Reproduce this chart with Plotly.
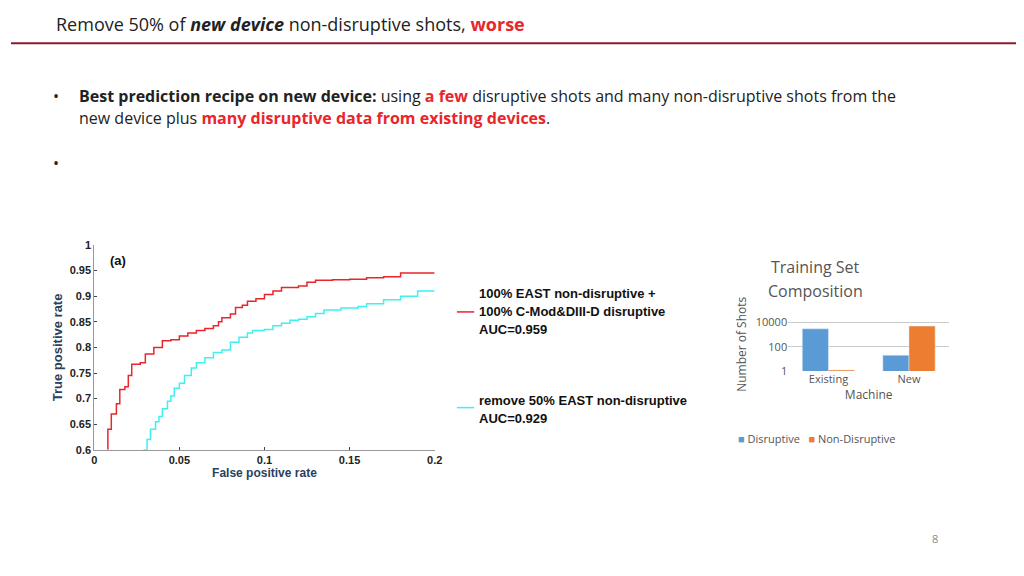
import plotly.graph_objects as go

# ROC curves
red_fpr = [0.008, 0.008, 0.010, 0.013, 0.015, 0.018, 0.020, 0.022, 0.027, 0.030, 0.035, 0.038, 0.040,
           0.045, 0.050, 0.055, 0.060, 0.065, 0.070, 0.073, 0.075, 0.080, 0.083, 0.087, 0.090, 0.095,
           0.100, 0.105, 0.110, 0.120, 0.125, 0.130, 0.140, 0.150, 0.160, 0.170, 0.180, 0.200]
red_tpr = [0.600, 0.640, 0.670, 0.690, 0.718, 0.723, 0.745, 0.767, 0.770, 0.787, 0.800, 0.800, 0.813,
           0.815, 0.822, 0.828, 0.833, 0.837, 0.842, 0.850, 0.858, 0.865, 0.878, 0.882, 0.890, 0.895,
           0.903, 0.910, 0.917, 0.920, 0.927, 0.931, 0.932, 0.933, 0.936, 0.938, 0.945, 0.945]
cyan_fpr = [0.029, 0.031, 0.033, 0.036, 0.038, 0.040, 0.043, 0.045, 0.047, 0.050, 0.053, 0.057, 0.060,
            0.065, 0.070, 0.075, 0.080, 0.085, 0.090, 0.093, 0.100, 0.105, 0.110, 0.115, 0.120, 0.125,
            0.130, 0.135, 0.145, 0.155, 0.160, 0.170, 0.180, 0.190, 0.200]
cyan_tpr = [0.600, 0.620, 0.640, 0.655, 0.665, 0.680, 0.695, 0.705, 0.720, 0.730, 0.745, 0.760, 0.770,
            0.780, 0.790, 0.795, 0.810, 0.820, 0.828, 0.833, 0.835, 0.842, 0.847, 0.853, 0.855, 0.860,
            0.866, 0.873, 0.877, 0.880, 0.885, 0.893, 0.900, 0.910, 0.910]

# training set composition (log scale)
machines = ['Existing', 'New']
disruptive = [3000, 20]
non_disruptive = [1.2, 5000]

# page renders offset by the body margin; nudge everything back
DX, DY = -9 / 1024, 12 / 576


def px(v):
    return v + DX


def py(v):
    return v + DY


fig = go.Figure()
fig.add_trace(go.Scatter(x=red_fpr, y=red_tpr, mode='lines', line=dict(color='#e8262b', width=1.5),
                         line_shape='hv', xaxis='x', yaxis='y'))
fig.add_trace(go.Scatter(x=cyan_fpr, y=cyan_tpr, mode='lines', line=dict(color='#3ff0f0', width=1.5),
                         line_shape='hv', xaxis='x', yaxis='y'))
fig.add_trace(go.Bar(x=machines, y=disruptive, marker_color='#5b9bd5', xaxis='x2', yaxis='y2'))
fig.add_trace(go.Bar(x=machines, y=non_disruptive, marker_color='#ed7d31', xaxis='x2', yaxis='y2'))

tickfont = dict(family='Arial Black, Arial', size=11, color='#222')
fig.update_layout(
    width=1024, height=576, margin=dict(l=0, r=0, t=0, b=0), showlegend=False,
    paper_bgcolor='white', plot_bgcolor='white', barmode='group', bargap=0.35,
    font=dict(family='Open Sans'),
    xaxis=dict(domain=[px(0.091), px(0.427)], range=[0, 0.2], tickvals=[0, 0.05, 0.1, 0.15, 0.2],
               ticktext=['<b>0</b>', '<b>0.05</b>', '<b>0.1</b>', '<b>0.15</b>', '<b>0.2</b>'],
               showgrid=False, zeroline=False,
               showline=True, linecolor='#999', ticks='inside', ticklen=3, tickfont=tickfont,
               title=dict(text='<b>False positive rate</b>', font=dict(family='Arial', size=12), standoff=0)),
    yaxis=dict(domain=[py(0.205), py(0.569)], range=[0.6, 1], showgrid=False, zeroline=False,
               tickvals=[0.6, 0.65, 0.7, 0.75, 0.8, 0.85, 0.9, 0.95, 1],
               ticktext=['<b>%g</b>' % v for v in [0.6, 0.65, 0.7, 0.75, 0.8, 0.85, 0.9, 0.95, 1]],
               showline=True, linecolor='#999', ticks='inside', ticklen=3, tickfont=tickfont,
               title=dict(text='<b>True positive rate</b>', font=dict(family='Arial', size=13), standoff=4)),
    xaxis2=dict(domain=[px(0.776), px(0.935)], anchor='y2', showgrid=False, showline=False,
                tickfont=dict(size=11, color='#555'),
                title=dict(text='Machine', font=dict(size=12, color='#555'), standoff=4)),
    yaxis2=dict(domain=[py(0.345), py(0.44)], anchor='x2', type='log', range=[0, 4.4],
                tickvals=[1, 100, 10000], ticktext=['1', '100', '10000'],
                gridcolor='#ccc', showline=False, zeroline=False, tickfont=dict(size=11, color='#555'),
                title=dict(text='Number of Shots', font=dict(size=12, color='#555'), standoff=6)),
)

ann = [
    dict(x=0.051, y=0.962, text='Remove 50% of <b><i>new device</i></b> non-disruptive shots, '
         '<b><span style="color:#e8262b">worse</span></b>', size=18, color='#222'),
    dict(x=0.074, y=0.834, text='<b>Best prediction recipe on new device:</b> using '
         '<b><span style="color:#e8262b">a few</span></b> disruptive shots and many non-disruptive shots from the',
         size=16, color='#222'),
    dict(x=0.074, y=0.795, text='new device plus <b><span style="color:#e8262b">many disruptive data from '
         'existing devices</span></b>.', size=16, color='#222'),
    dict(x=0.048, y=0.834, text='•', size=16, color='#222'),
    dict(x=0.048, y=0.714, text='•', size=16, color='#222'),
    dict(x=0.105, y=0.542, text='<b>(a)</b>', size=13, color='#111', family='Arial'),
    dict(x=0.469, y=0.483, text='<b>100% EAST non-disruptive +</b>', size=13, color='#111', family='Arial'),
    dict(x=0.469, y=0.450, text='<b>100% C-Mod&DIII-D disruptive</b>', size=13, color='#111', family='Arial'),
    dict(x=0.469, y=0.418, text='<b>AUC=0.959</b>', size=13, color='#111', family='Arial'),
    dict(x=0.469, y=0.292, text='<b>remove 50% EAST non-disruptive</b>', size=13, color='#111', family='Arial'),
    dict(x=0.469, y=0.261, text='<b>AUC=0.929</b>', size=13, color='#111', family='Arial'),
    dict(x=0.757, y=0.530, text='Training Set', size=16, color='#555'),
    dict(x=0.754, y=0.488, text='Composition', size=16, color='#555'),
    dict(x=0.724, y=0.226, text='<span style="color:#5b9bd5">■</span> Disruptive   '
         '<span style="color:#ed7d31">■</span> Non-Disruptive', size=11, color='#555'),
    dict(x=0.916, y=0.047, text='8', size=11, color='#888'),
]
for a in ann:
    fig.add_annotation(x=px(a['x']), y=py(a['y']), xref='paper', yref='paper', text=a['text'], showarrow=False,
                       xanchor='left', yanchor='middle',
                       font=dict(size=a['size'], color=a['color'], family=a.get('family', 'Open Sans')))

fig.add_shape(type='line', xref='paper', yref='paper', x0=0, x1=1, y0=py(0.927), y1=py(0.927),
              line=dict(color='#8b1a2b', width=2))
fig.add_shape(type='line', xref='paper', yref='paper', x0=px(0.449), x1=px(0.466), y0=py(0.450), y1=py(0.450),
              line=dict(color='#e8262b', width=1.5))
fig.add_shape(type='line', xref='paper', yref='paper', x0=px(0.449), x1=px(0.466), y0=py(0.280), y1=py(0.280),
              line=dict(color='#3ff0f0', width=1.5))

fig.write_html('out.html')
